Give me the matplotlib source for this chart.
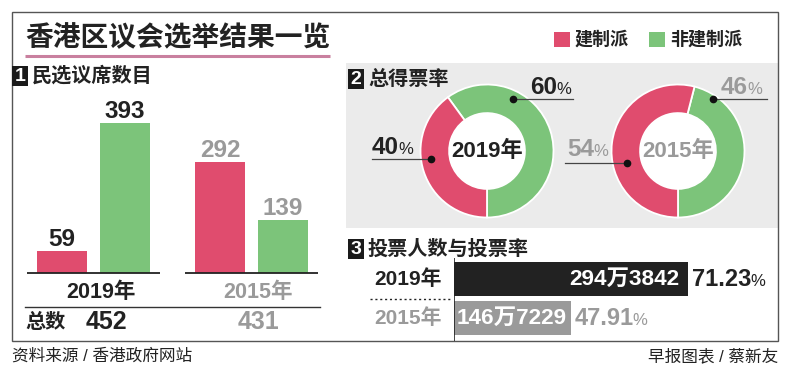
import numpy as np
import matplotlib
matplotlib.use('Agg')
import matplotlib.pyplot as plt
from matplotlib.patches import Rectangle, Circle

plt.rcParams['font.family'] = ['Liberation Sans', 'Noto Sans CJK SC']

RED = '#e04c6e'
GREEN = '#7cc47a'
GRAY = '#9a9a9a'
DARK = '#222222'
PANEL = '#ebebeb'

# data
years = ['2019年', '2015年']
seats_pro = [59, 292]        # 建制派
seats_demo = [393, 139]      # 非建制派
seats_total = [452, 431]
vote_pro = [40, 54]
vote_demo = [60, 46]
voters = [2943842, 1467229]
voter_labels = ['294万3842', '146万7229']
turnout = [71.23, 47.91]
year_colors = [DARK, GRAY]

W, H = 791, 374
fig = plt.figure(figsize=(W / 100, H / 100), dpi=100)
fig.patch.set_facecolor('white')


def px_axes(x0, y0, x1, y1, z=1):
    ax = fig.add_axes([x0 / W, 1 - y1 / H, (x1 - x0) / W, (y1 - y0) / H], zorder=z)
    ax.set_facecolor('none')
    return ax


bg = px_axes(0, 0, W, H, z=0)
bg.set_xlim(0, W)
bg.set_ylim(H, 0)
bg.axis('off')

top = px_axes(0, 0, W, H, z=10)
top.set_xlim(0, W)
top.set_ylim(H, 0)
top.axis('off')

# frame + grey panel
bg.add_patch(Rectangle((346, 63), 432, 165, color=PANEL, lw=0))
bg.add_patch(Rectangle((12, 12), 766, 329, fill=False, ec='#555555', lw=1))

# title
bg.text(25, 39, '香港区议会选举结果一览', fontsize=20, weight='bold', color=DARK,
        ha='left', va='center')
bg.plot([25, 330], [55.5, 55.5], color='#c9809f', lw=2.2, solid_capstyle='butt')

# legend
bg.add_patch(Rectangle((554, 32), 16, 15, color=RED, lw=0))
bg.text(575, 40, '建制派', fontsize=13, weight='bold', color=DARK, va='center')
bg.add_patch(Rectangle((649, 32), 16, 15, color=GREEN, lw=0))
bg.text(670, 40, '非建制派', fontsize=13, weight='bold', color=DARK, va='center')


def numbox(x, y, n, title):
    bg.add_patch(Rectangle((x, y), 16, 20, color='#1a1a1a', lw=0))
    bg.text(x + 8, y + 10.5, n, color='white', fontsize=14, weight='bold',
            ha='center', va='center')
    bg.text(x + 20, y + 10, title, color=DARK, fontsize=14.5, weight='bold',
            ha='left', va='center')


numbox(12, 66, '1', '民选议席数目')
numbox(348, 69, '2', '总得票率')
numbox(348, 239, '3', '投票人数与投票率')

# ---- section 1: seats
ax1 = px_axes(27, 100, 318, 273, z=2)
grp = np.arange(len(years))
off, bw = 0.2, 0.316
ax1.bar(grp - off, seats_pro, bw, color=RED)
ax1.bar(grp + off, seats_demo, bw, color=GREEN)
ax1.set_xlim(-0.421, 1.421)
ax1.set_ylim(0, 454)
ax1.axis('off')
for i in range(len(years)):
    ax1.hlines(0, i - 0.42, i + 0.42, color=DARK, lw=1.3, clip_on=False)
    for xv, v in [(i - off, seats_pro[i]), (i + off, seats_demo[i])]:
        ax1.text(xv, v, str(v), ha='center', va='bottom', fontsize=17.5,
                 weight='bold', color=year_colors[i])
    ax1.annotate(years[i], xy=(i, 0), xytext=(5, -14), textcoords='offset points',
                 ha='center', va='center', fontsize=15.5, weight='bold',
                 color=year_colors[i])

bg.plot([25, 320], [307, 307], color='#333333', lw=1)
bg.text(25, 322, '总数', fontsize=14.5, weight='bold', color=DARK, va='center')
for xc, tot, c in zip([106, 258], seats_total, year_colors):
    bg.text(xc, 322, str(tot), fontsize=18, weight='bold', color=c,
            ha='center', va='center')

# ---- section 2: vote share donuts
r = 66.5
for i, cx in enumerate([487, 678]):
    cy = 151
    ax = px_axes(cx - r * 1.03, cy - r * 1.03, cx + r * 1.03, cy + r * 1.03, z=3)
    ax.pie([vote_demo[i], vote_pro[i]], colors=[GREEN, RED], startangle=270,
           counterclock=True, radius=1,
           wedgeprops=dict(width=0.43, edgecolor='white', linewidth=1.3))
    ax.add_patch(Circle((0, 0), 0.57, color='white', lw=0))
    ax.set_xlim(-1.03, 1.03)
    ax.set_ylim(-1.03, 1.03)
    ax.text(0, 0, years[i], ha='center', va='center', fontsize=16, weight='bold',
            color=year_colors[i])


def pct_label(x, y, val, color, big=17.5, small=12):
    t = top.text(x, y, str(val), ha='left', va='baseline', fontsize=big,
                 weight='bold', color=color)
    top.annotate('%', xy=(1, 0), xycoords=t, xytext=(-0.5, 1.2),
                 textcoords='offset points', ha='left', va='bottom',
                 fontsize=small, color=color)
    return t


def leader(x0, x1, y, dot_x):
    top.plot([x0, x1], [y, y], color='#444444', lw=0.9)
    top.plot(dot_x, y, 'o', ms=4.5, color='#111111')


pct_label(530, 94, vote_demo[0], DARK)
leader(513, 573, 99, 513)
pct_label(372, 154, vote_pro[0], DARK)
leader(372, 431, 159, 431)
pct_label(567, 156, vote_pro[1], GRAY)
leader(565, 627, 163, 627)
pct_label(721, 94, vote_demo[1], GRAY)
leader(713, 767, 99, 713)

# ---- section 3: voters and turnout
ax3 = px_axes(454, 258, 778, 341, z=2)
rows = np.arange(len(years))
ax3.barh(rows, voters, height=0.88, color=[DARK, GRAY])
ax3.set_xlim(0, 4075000)
ax3.set_ylim(1.585, -0.545)
ax3.axis('off')
ax3.axvline(0, color=DARK, lw=1.2)
inner_pad = [-6, -2.5]
for i in range(len(years)):
    ax3.annotate(voter_labels[i], xy=(voters[i], i), xytext=(inner_pad[i], 0),
                 textcoords='offset points', ha='right', va='center',
                 fontsize=16.2, weight='bold', color='white')
    t = ax3.annotate(f'{turnout[i]:.2f}', xy=(voters[i], i), xytext=(2.5, 0),
                     textcoords='offset points', ha='left', va='center',
                     fontsize=17, weight='bold', color=year_colors[i])
    ax3.annotate('%', xy=(1, 0), xycoords=t, xytext=(-0.5, 1.2),
                 textcoords='offset points', ha='left', va='bottom',
                 fontsize=12, color=year_colors[i])
    ax3.annotate(years[i], xy=(0, i), xytext=(-9, 0), textcoords='offset points',
                 ha='right', va='center', fontsize=15, weight='bold',
                 color=year_colors[i], annotation_clip=False)

bg.plot([370, 452], [299, 299], color=DARK, lw=1, linestyle=(0, (1.5, 2)))

# footer
bg.text(12, 356, '资料来源 / 香港政府网站', fontsize=12, color=DARK, va='center')
bg.text(778, 356, '早报图表 / 蔡新友', fontsize=12, color=DARK, va='center', ha='right')

fig.savefig('out.png', dpi=100, facecolor='white')
